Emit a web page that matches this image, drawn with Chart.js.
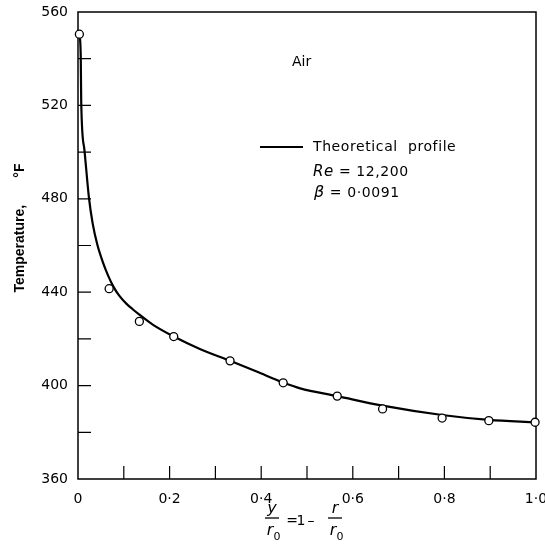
<!DOCTYPE html>
<html>
<head>
<meta charset="utf-8">
<script src="https://cdn.jsdelivr.net/npm/chart.js@4.4.1/dist/chart.umd.min.js"></script>
<style>
  html, body { margin: 0; padding: 0; background: #fff; }
  #wrap { width: 545px; height: 546px; }
</style>
</head>
<body>
<div id="wrap"><canvas id="tempChart"></canvas></div>
<script>
// measured points (open circles)
const pointX = [0.003, 0.068, 0.134, 0.209, 0.332, 0.448, 0.566, 0.665, 0.795, 0.897, 0.998];
const pointY = [550.5, 441.5, 427.5, 421, 410.6, 401.2, 395.5, 390, 386.1, 385, 384.3];

// theoretical profile
const curveX = [0.003, 0.006, 0.007, 0.014, 0.024, 0.032, 0.042, 0.054, 0.066, 0.077, 0.09, 0.106, 0.12, 0.134, 0.164, 0.209, 0.266, 0.332, 0.390, 0.448, 0.485, 0.566, 0.665, 0.795, 0.897, 1.0];
const curveY = [551, 541, 521.6, 501, 480.3, 469.5, 460.5, 453, 447, 442.5, 438.5, 435, 432.6, 430.4, 426, 421, 415.7, 410.6, 406, 401.3, 398.8, 395.5, 391.4, 387.4, 385.3, 384.3];

const xMin = 0, xMax = 1, xStep = 0.1;
const yMin = 360, yMax = 560, yStep = 20;

const tickFont = { family: 'DejaVu Sans', size: 14 };

const fmtX = v => {
  const tenths = Math.round(v * 10);
  if (tenths % 2 !== 0) return '';
  if (tenths === 0) return '0';
  return (tenths / 10).toFixed(1).replace('.', '\u00b7');
};

// frame, inward ticks and the text written inside the figure
const decorPlugin = {
  id: 'decor',
  beforeDatasetsDraw(chart) {
    const { ctx, chartArea: a, scales } = chart;
    ctx.save();
    ctx.strokeStyle = '#000';
    ctx.lineWidth = 1.5;
    ctx.strokeRect(a.left, a.top, a.right - a.left, a.bottom - a.top);

    ctx.lineWidth = 1.2;
    ctx.beginPath();
    scales.x.ticks.forEach(t => {
      const px = scales.x.getPixelForValue(t.value);
      if (px <= a.left + 1 || px >= a.right - 1) return;
      ctx.moveTo(px, a.bottom);
      ctx.lineTo(px, a.bottom - 13);
    });
    scales.y.ticks.forEach(t => {
      const py = scales.y.getPixelForValue(t.value);
      if (py <= a.top + 1 || py >= a.bottom - 1) return;
      ctx.moveTo(a.left, py);
      ctx.lineTo(a.left + 13, py);
    });
    ctx.stroke();
    ctx.restore();
  },
  afterDraw(chart) {
    const { ctx } = chart;
    ctx.save();
    ctx.fillStyle = '#000';
    ctx.strokeStyle = '#000';
    ctx.textBaseline = 'middle';
    ctx.textAlign = 'left';

    ctx.font = '14px "DejaVu Sans"';
    ctx.fillText('Air', 292, 62);

    // legend entry
    ctx.lineWidth = 2;
    ctx.beginPath();
    ctx.moveTo(260, 147);
    ctx.lineTo(303, 147);
    ctx.stroke();
    ctx.letterSpacing = '0.6px';
    ctx.fillText('Theoretical  profile', 313, 147);

    ctx.font = 'italic 15px "DejaVu Sans"';
    ctx.fillText('Re', 313, 172);
    let w = ctx.measureText('Re').width;
    ctx.font = '14px "DejaVu Sans"';
    ctx.fillText(' = 12,200', 313 + w, 172);

    ctx.font = 'italic 16px "DejaVu Sans"';
    ctx.fillText('\u03b2', 314, 193);
    w = ctx.measureText('\u03b2').width;
    ctx.font = '14px "DejaVu Sans"';
    ctx.fillText(' = 0\u00b70091', 314 + w, 193);
    ctx.letterSpacing = '0px';

    // x axis title: y/r0 = 1 - r/r0
    ctx.textAlign = 'center';
    ctx.lineWidth = 1.3;
    const frac = (cx, top) => {
      ctx.font = 'italic 16px "DejaVu Sans"';
      ctx.fillText(top, cx, 509);
      ctx.beginPath();
      ctx.moveTo(cx - 7, 518);
      ctx.lineTo(cx + 7, 518);
      ctx.stroke();
      ctx.fillText('r', cx - 2, 531);
      ctx.font = '11px "DejaVu Sans"';
      ctx.fillText('0', cx + 5, 537);
    };
    frac(272, 'y');
    ctx.font = '14px "DejaVu Sans"';
    ctx.fillText('=', 292, 521);
    ctx.fillText('1', 301, 521);
    ctx.fillText('\u2013', 311, 521);
    frac(335, 'r');
    ctx.restore();
  }
};

const ctx = document.getElementById('tempChart').getContext('2d');

new Chart(ctx, {
  type: 'scatter',
  data: {
    datasets: [
      {
        label: 'Theoretical profile',
        data: curveX.map((x, i) => ({ x: x, y: curveY[i] })),
        showLine: true,
        borderColor: '#000',
        borderWidth: 2.2,
        pointRadius: 0,
        cubicInterpolationMode: 'monotone',
        clip: false,
        order: 2
      },
      {
        label: 'Measured',
        data: pointX.map((x, i) => ({ x: x, y: pointY[i] })),
        showLine: false,
        pointRadius: 4,
        pointBackgroundColor: '#fff',
        pointBorderColor: '#000',
        pointBorderWidth: 1.3,
        clip: false,
        order: 1
      }
    ]
  },
  options: {
    responsive: true,
    maintainAspectRatio: false,
    animation: false,
    layout: { padding: { left: 0, right: 9, top: 12, bottom: 0 } },
    plugins: {
      legend: { display: false },
      tooltip: { enabled: false }
    },
    scales: {
      x: {
        type: 'linear',
        min: xMin,
        max: xMax,
        grid: { display: false },
        border: { display: false },
        ticks: {
          stepSize: xStep,
          autoSkip: false,
          maxRotation: 0,
          padding: 4,
          color: '#000',
          font: tickFont,
          callback: v => fmtX(v)
        },
        afterFit: s => {
          s.height = 67;
          s.paddingLeft = 0;
          s.paddingRight = 0;
        }
      },
      y: {
        type: 'linear',
        min: yMin,
        max: yMax,
        grid: { display: false },
        border: { display: false },
        title: {
          display: true,
          text: '         Temperature,       \u00b0F',
          color: '#000',
          font: { family: 'Liberation Sans', size: 14, weight: 'bold' },
          padding: { top: 12, bottom: 0 }
        },
        ticks: {
          stepSize: yStep,
          autoSkip: false,
          padding: 2,
          color: '#000',
          font: tickFont,
          callback: v => (v % 40 === 0 ? v : '')
        },
        afterFit: s => { s.width = 78; }
      }
    }
  },
  plugins: [decorPlugin]
});
</script>
</body>
</html>
